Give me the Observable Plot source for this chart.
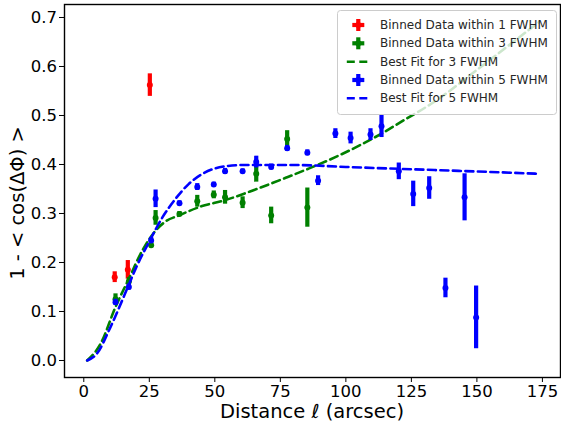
<!DOCTYPE html>
<html>
<head>
<meta charset="utf-8">
<script src="https://cdn.jsdelivr.net/npm/d3@7"></script>
<script src="https://cdn.jsdelivr.net/npm/@observablehq/plot@0.6"></script>
<style>
  html, body { margin: 0; padding: 0; background: #fff; }
  #chart svg { display: block; }
</style>
</head>
<body>
<div id="chart"></div>
<script>
// ---- data ----
// Binned data within 1 FWHM (red)
const redX   = [11.8, 16.8, 25.2];
const redY   = [0.170, 0.185, 0.562];
const redErr = [0.011, 0.019, 0.023];

// Binned data within 3 FWHM (green)
const greenX   = [12.1, 17.2, 25.7, 27.4, 36.5, 43.3, 49.6, 53.9, 60.6, 65.8, 71.5, 77.6, 85.3];
const greenY   = [0.125, 0.161, 0.235, 0.291, 0.299, 0.325, 0.338, 0.333, 0.322, 0.381, 0.296, 0.452, 0.312];
const greenErr = [0.011, 0.008, 0.005, 0.015, 0.005, 0.012, 0.008, 0.014, 0.012, 0.017, 0.017, 0.017, 0.040];

// Binned data within 5 FWHM (blue)
const blueX   = [12.1, 17.2, 25.7, 27.4, 36.5, 43.3, 49.6, 53.9, 60.6, 65.8, 71.5, 77.6, 85.3, 89.4, 96.0, 101.8, 109.4, 113.6, 120.2, 125.7, 131.8, 138.0, 145.3, 149.7];
const blueY   = [0.119, 0.150, 0.245, 0.330, 0.321, 0.354, 0.359, 0.386, 0.386, 0.405, 0.395, 0.433, 0.424, 0.367, 0.463, 0.454, 0.461, 0.478, 0.386, 0.340, 0.352, 0.148, 0.333, 0.088];
const blueErr = [0.006, 0.006, 0.006, 0.018, 0.005, 0.007, 0.005, 0.006, 0.005, 0.012, 0.006, 0.006, 0.006, 0.010, 0.010, 0.012, 0.012, 0.023, 0.017, 0.026, 0.023, 0.020, 0.048, 0.064];

// Best fit for 3 FWHM (green dashed)
const fit3X = [1.3, 6.4, 12.1, 17.2, 22.3, 27.4, 31.0, 36.3, 44.5, 53.8, 65.0, 77.6, 86.0, 98.0, 113.6, 122.0, 133.5, 150.0, 170.4, 173.6];
const fit3Y = [0.000, 0.034, 0.109, 0.167, 0.224, 0.265, 0.283, 0.296, 0.314, 0.327, 0.348, 0.374, 0.392, 0.420, 0.463, 0.490, 0.527, 0.593, 0.677, 0.690];

// Best fit for 5 FWHM (blue dashed)
const fit5X = [1.3, 5.0, 10.0, 16.5, 20.0, 25.5, 30.0, 35.0, 40.0, 45.0, 50.0, 55.0, 61.0, 80.0, 100.0, 121.0, 159.0, 173.6];
const fit5Y = [0.000, 0.014, 0.066, 0.146, 0.190, 0.248, 0.292, 0.330, 0.360, 0.380, 0.392, 0.397, 0.399, 0.399, 0.395, 0.391, 0.384, 0.381];

const xTicks = [0, 25, 50, 75, 100, 125, 150, 175];
const yTicks = [0.0, 0.1, 0.2, 0.3, 0.4, 0.5, 0.6, 0.7];

const xLabel = "Distance ℓ (arcsec)";
const yLabel = "1 - < cos(ΔΦ) >";

const legendItems = [
  {label: "Binned Data within 1 FWHM", color: "#ff0000", kind: "data"},
  {label: "Binned Data within 3 FWHM", color: "#008000", kind: "data"},
  {label: "Best Fit for 3 FWHM", color: "#008000", kind: "fit"},
  {label: "Binned Data within 5 FWHM", color: "#0000ff", kind: "data"},
  {label: "Best Fit for 5 FWHM", color: "#0000ff", kind: "fit"}
];

// ---- build tables ----
const pts = (xs, ys, es) => xs.map((x, i) => ({x, y: ys[i], lo: ys[i] - es[i], hi: ys[i] + es[i]}));
const red = pts(redX, redY, redErr);
const green = pts(greenX, greenY, greenErr);
const blue = pts(blueX, blueY, blueErr);
const fit3 = fit3X.map((x, i) => ({x, y: fit3Y[i]}));
const fit5 = fit5X.map((x, i) => ({x, y: fit5Y[i]}));

const W = 561, H = 423;
const mL = 64, mR = 1, mT = 4, mB = 46;
const font = "'DejaVu Sans', sans-serif";
const dash = "8,4.5";
const fitW = 2.6;

function errMarks(data, color) {
  return [
    Plot.ruleX(data, {x: "x", y1: "lo", y2: "hi", stroke: color, strokeWidth: 4.2}),
    Plot.dot(data, {x: "x", y: "y", r: 3, fill: color, stroke: "none"})
  ];
}

const chart = Plot.plot({
  width: W,
  height: H,
  marginLeft: mL,
  marginRight: mR,
  marginTop: mT,
  marginBottom: mB,
  style: {fontFamily: font, color: "black", background: "white", overflow: "visible"},
  x: {domain: [-7.36, 181.9]},
  y: {domain: [-0.0347, 0.7265]},
  marks: [
    ...errMarks(red, "#ff0000"),
    ...errMarks(green, "#008000"),
    Plot.line(fit3, {x: "x", y: "y", stroke: "#008000", strokeWidth: fitW, strokeDasharray: dash, curve: "monotone-x"}),
    ...errMarks(blue, "#0000ff"),
    Plot.line(fit5, {x: "x", y: "y", stroke: "#0000ff", strokeWidth: fitW, strokeDasharray: dash, curve: "monotone-x"}),
    Plot.frame({stroke: "black", strokeWidth: 1.4}),
    Plot.axisX({ticks: xTicks, tickSize: 5, tickPadding: 3, fontSize: 16.5, label: null, tickFormat: d3.format("d")}),
    Plot.axisY({ticks: yTicks, tickSize: 5, tickPadding: 2.5, fontSize: 16.5, label: null, tickFormat: d3.format(".1f")})
  ]
});

document.getElementById("chart").appendChild(chart);

// ---- axis labels and legend ----
const svg = d3.select(chart);

svg.append("text")
  .attr("x", (mL + W - mR) / 2)
  .attr("y", 411)
  .attr("text-anchor", "middle")
  .attr("dominant-baseline", "central")
  .style("font-family", font)
  .style("font-size", "19.5px")
  .attr("fill", "black")
  .text(xLabel);

svg.append("text")
  .attr("transform", "translate(17.5,203) rotate(-90)")
  .attr("text-anchor", "middle")
  .attr("dominant-baseline", "central")
  .style("font-family", font)
  .style("font-size", "19.5px")
  .attr("fill", "black")
  .text(yLabel);

const lg = svg.append("g").attr("text-anchor", "start");
lg.append("rect")
  .attr("x", 337.5).attr("y", 10.5)
  .attr("width", 219).attr("height", 104)
  .attr("rx", 3)
  .attr("fill", "white").attr("fill-opacity", 0.8)
  .attr("stroke", "#cccccc").attr("stroke-width", 1);

const rowY = [25, 43.3, 61.7, 80, 98.3];
legendItems.forEach((it, i) => {
  const cy = rowY[i];
  const cx = 358.3;
  if (it.kind === "data") {
    lg.append("line").attr("x1", cx - 6).attr("x2", cx + 6).attr("y1", cy).attr("y2", cy)
      .attr("stroke", it.color).attr("stroke-width", 4.2);
    lg.append("line").attr("x1", cx).attr("x2", cx).attr("y1", cy - 6).attr("y2", cy + 6)
      .attr("stroke", it.color).attr("stroke-width", 4.2);
    lg.append("circle").attr("cx", cx).attr("cy", cy).attr("r", 3).attr("fill", it.color);
  } else {
    lg.append("line").attr("x1", cx - 11.5).attr("x2", cx + 9).attr("y1", cy).attr("y2", cy)
      .attr("stroke", it.color).attr("stroke-width", fitW).attr("stroke-dasharray", dash);
  }
  lg.append("text")
    .attr("x", 380).attr("y", cy)
    .attr("text-anchor", "start")
    .attr("dominant-baseline", "central")
    .style("font-family", font)
    .style("font-size", "12px")
    .attr("fill", "#262626")
    .text(it.label);
});
</script>
</body>
</html>
